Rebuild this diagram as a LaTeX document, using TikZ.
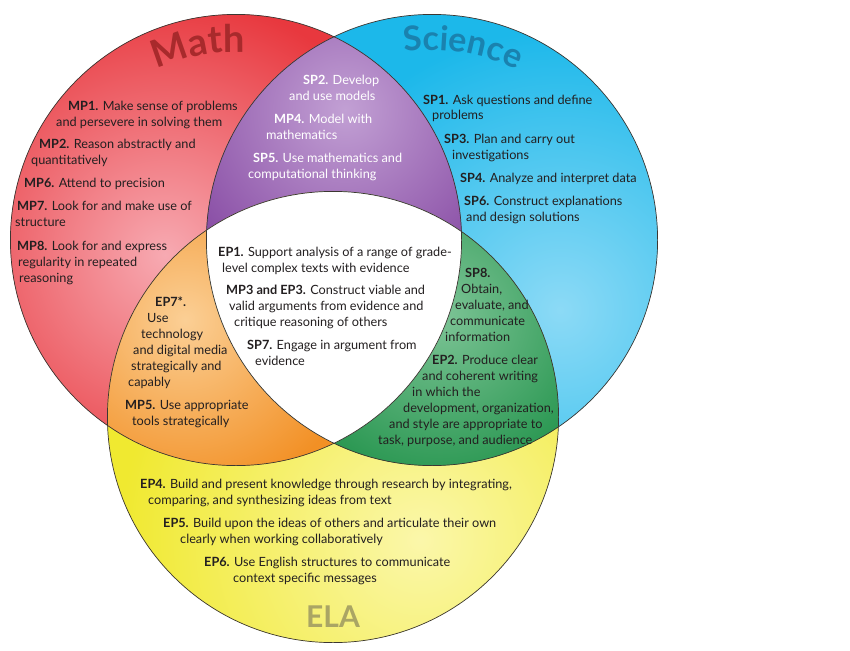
\documentclass[tikz,border=0pt]{standalone}
\usepackage{fontspec}
\setmainfont{Lato}
\usetikzlibrary{decorations.text}

\definecolor{mathred}{RGB}{232,56,62}
\definecolor{mathlight}{RGB}{247,170,178}
\definecolor{sciblue}{RGB}{28,184,234}
\definecolor{scilight}{RGB}{140,218,246}
\definecolor{elayel}{RGB}{240,233,48}
\definecolor{elalight}{RGB}{251,247,170}
\definecolor{purp}{RGB}{138,79,166}
\definecolor{purplight}{RGB}{194,160,212}
\definecolor{orng}{RGB}{242,144,37}
\definecolor{ornglight}{RGB}{251,207,149}
\definecolor{grn}{RGB}{40,150,80}
\definecolor{grnlight}{RGB}{125,196,150}
\definecolor{txtdark}{RGB}{35,31,32}
\definecolor{rimgray}{RGB}{60,55,50}
\definecolor{mathtitle}{RGB}{168,42,44}
\definecolor{scititle}{RGB}{26,130,175}
\definecolor{elatitle}{RGB}{170,165,100}

\newcommand{\ind}[1]{\hspace*{#1pt}}

\begin{document}
\begin{tikzpicture}[x=1pt,y=-1pt,
  prac/.style={anchor=base west, align=left, inner sep=0pt,
    font=\fontsize{12.7}{16}\selectfont, text=txtdark},
  pracw/.style={prac, text=white},
  rim/.style={draw=rimgray, line width=0.7pt}]
  \fill[white] (0,0) rectangle (850,650);
  \useasboundingbox (0,0) rectangle (850,650);

  \coordinate (mathc) at (236,240);
  \coordinate (scic) at (432,240);
  \coordinate (elac) at (333,417);
  \def\rad{225.6}

  % single circles
  \begin{scope}
    \clip (mathc) circle (\rad);
    \fill[mathred] (mathc) circle (\rad);
    \shade[inner color=mathlight, outer color=mathred] (165,255) circle (260);
  \end{scope}
  \begin{scope}
    \clip (scic) circle (\rad);
    \fill[sciblue] (scic) circle (\rad);
    \shade[inner color=scilight, outer color=sciblue] (560,310) circle (280);
  \end{scope}
  \begin{scope}
    \clip (elac) circle (\rad);
    \fill[elayel] (elac) circle (\rad);
    \shade[inner color=elalight, outer color=elayel] (420,540) circle (300);
  \end{scope}

  % overlaps
  \begin{scope}
    \clip (mathc) circle (\rad);
    \clip (scic) circle (\rad);
    \fill[purp] (scic) circle (\rad);
    \shade[inner color=purplight, outer color=purp] (345,110) circle (180);
  \end{scope}
  \begin{scope}
    \clip (mathc) circle (\rad);
    \clip (elac) circle (\rad);
    \fill[orng] (elac) circle (\rad);
    \shade[inner color=ornglight, outer color=orng] (185,320) circle (180);
  \end{scope}
  \begin{scope}
    \clip (scic) circle (\rad);
    \clip (elac) circle (\rad);
    \fill[grn] (elac) circle (\rad);
    \shade[inner color=grnlight, outer color=grn] (440,315) circle (170);
  \end{scope}
  \begin{scope}
    \clip (mathc) circle (\rad);
    \clip (scic) circle (\rad);
    \fill[white] (elac) circle (\rad);
  \end{scope}

  \draw[rim] (mathc) circle (\rad);
  \draw[rim] (scic) circle (\rad);
  \draw[rim] (elac) circle (\rad);

  % titles
  \path[decorate, decoration={text along path, text align=center,
      text color=mathtitle,
      text={|\fontsize{38}{38}\selectfont\bfseries|Math}}]
    (mathc) ++(-120:188) arc[start angle=-120, end angle=-82, radius=188];
  \path[decorate, decoration={text along path, text align=center,
      text color=scititle,
      text={|\fontsize{34}{34}\selectfont\bfseries|Science}}]
    (scic) ++(-106:190) arc[start angle=-106, end angle=-56, radius=190];
  \node[font=\fontsize{30}{30}\selectfont\bfseries, text=elatitle] (elat) at (333,617) {ELA};

  % math
  \node[prac] (mp1) at (56,126) {\ind{12}\textbf{MP1.} Make sense of problems\\and persevere in solving them};
  \node[prac] (mp2) at (31,164) {\ind{8}\textbf{MP2.} Reason abstractly and\\quantitatively};
  \node[prac] (mp6) at (24,187) {\textbf{MP6.} Attend to precision};
  \node[prac] (mp7) at (15,226) {\ind{2}\textbf{MP7.} Look for and make use of\\structure};
  \node[prac] (mp8) at (17,282) {\textbf{MP8.} Look for and express\\\ind{1}regularity in repeated\\\ind{2}reasoning};

  % math and science
  \node[pracw] (sp2) at (289,101) {\ind{14}\textbf{SP2.} Develop\\and use models};
  \node[pracw] (mp4) at (266,139) {\ind{8}\textbf{MP4.} Model with\\mathematics};
  \node[pracw] (sp5) at (248,178) {\ind{5}\textbf{SP5.} Use mathematics and\\computational thinking};

  % science
  \node[prac] (sp1) at (423,120) {\textbf{SP1.} Ask questions and define\\\ind{9}problems};
  \node[prac] (sp3) at (444,159) {\textbf{SP3.} Plan and carry out\\\ind{8}investigations};
  \node[prac] (sp4) at (460,182) {\textbf{SP4.} Analyze and interpret data};
  \node[prac] (sp6) at (464,221) {\textbf{SP6.} Construct explanations\\\ind{2}and design solutions};

  % all three
  \node[prac] (ep1) at (218,272) {\textbf{EP1.} Support analysis of a range of grade-\\\ind{4}level complex texts with evidence};
  \node[prac] (ep3) at (226,326) {\textbf{MP3 and EP3.} Construct viable and\\\ind{3}valid arguments from evidence and\\\ind{8}critique reasoning of others};
  \node[prac] (sp7) at (247,365) {\textbf{SP7.} Engage in argument from\\\ind{8}evidence};

  % science and ela
  \node[prac] (sp8) at (445,341) {\ind{20}\textbf{SP8.}\\\ind{16}Obtain,\\\ind{10}evaluate, and\\\ind{5}communicate\\information};
  \node[prac] (ep2) at (378,444) {\ind{54}\textbf{EP2.} Produce clear\\\ind{44}and coherent writing\\\ind{34}in which the\\\ind{25}development, organization,\\\ind{11}and style are appropriate to\\task, purpose, and audience};

  % math and ela
  \node[prac] (ep7) at (128,386) {\ind{27}\textbf{EP7*.}\\\ind{19}Use\\\ind{13}technology\\\ind{5}and digital media\\\ind{3}strategically and\\capably};
  \node[prac] (mp5) at (125,425) {\textbf{MP5.} Use appropriate\\\ind{7}tools strategically};

  % ela
  \node[prac] (ep4) at (140,504) {\textbf{EP4.} Build and present knowledge through research by integrating,\\\ind{8}comparing, and synthesizing ideas from text};
  \node[prac] (ep5) at (163,543) {\textbf{EP5.} Build upon the ideas of others and articulate their own\\\ind{17}clearly when working collaboratively};
  \node[prac] (ep6) at (204,582) {\textbf{EP6.} Use English structures to communicate\\\ind{29}context specific messages};
\end{tikzpicture}
\end{document}
